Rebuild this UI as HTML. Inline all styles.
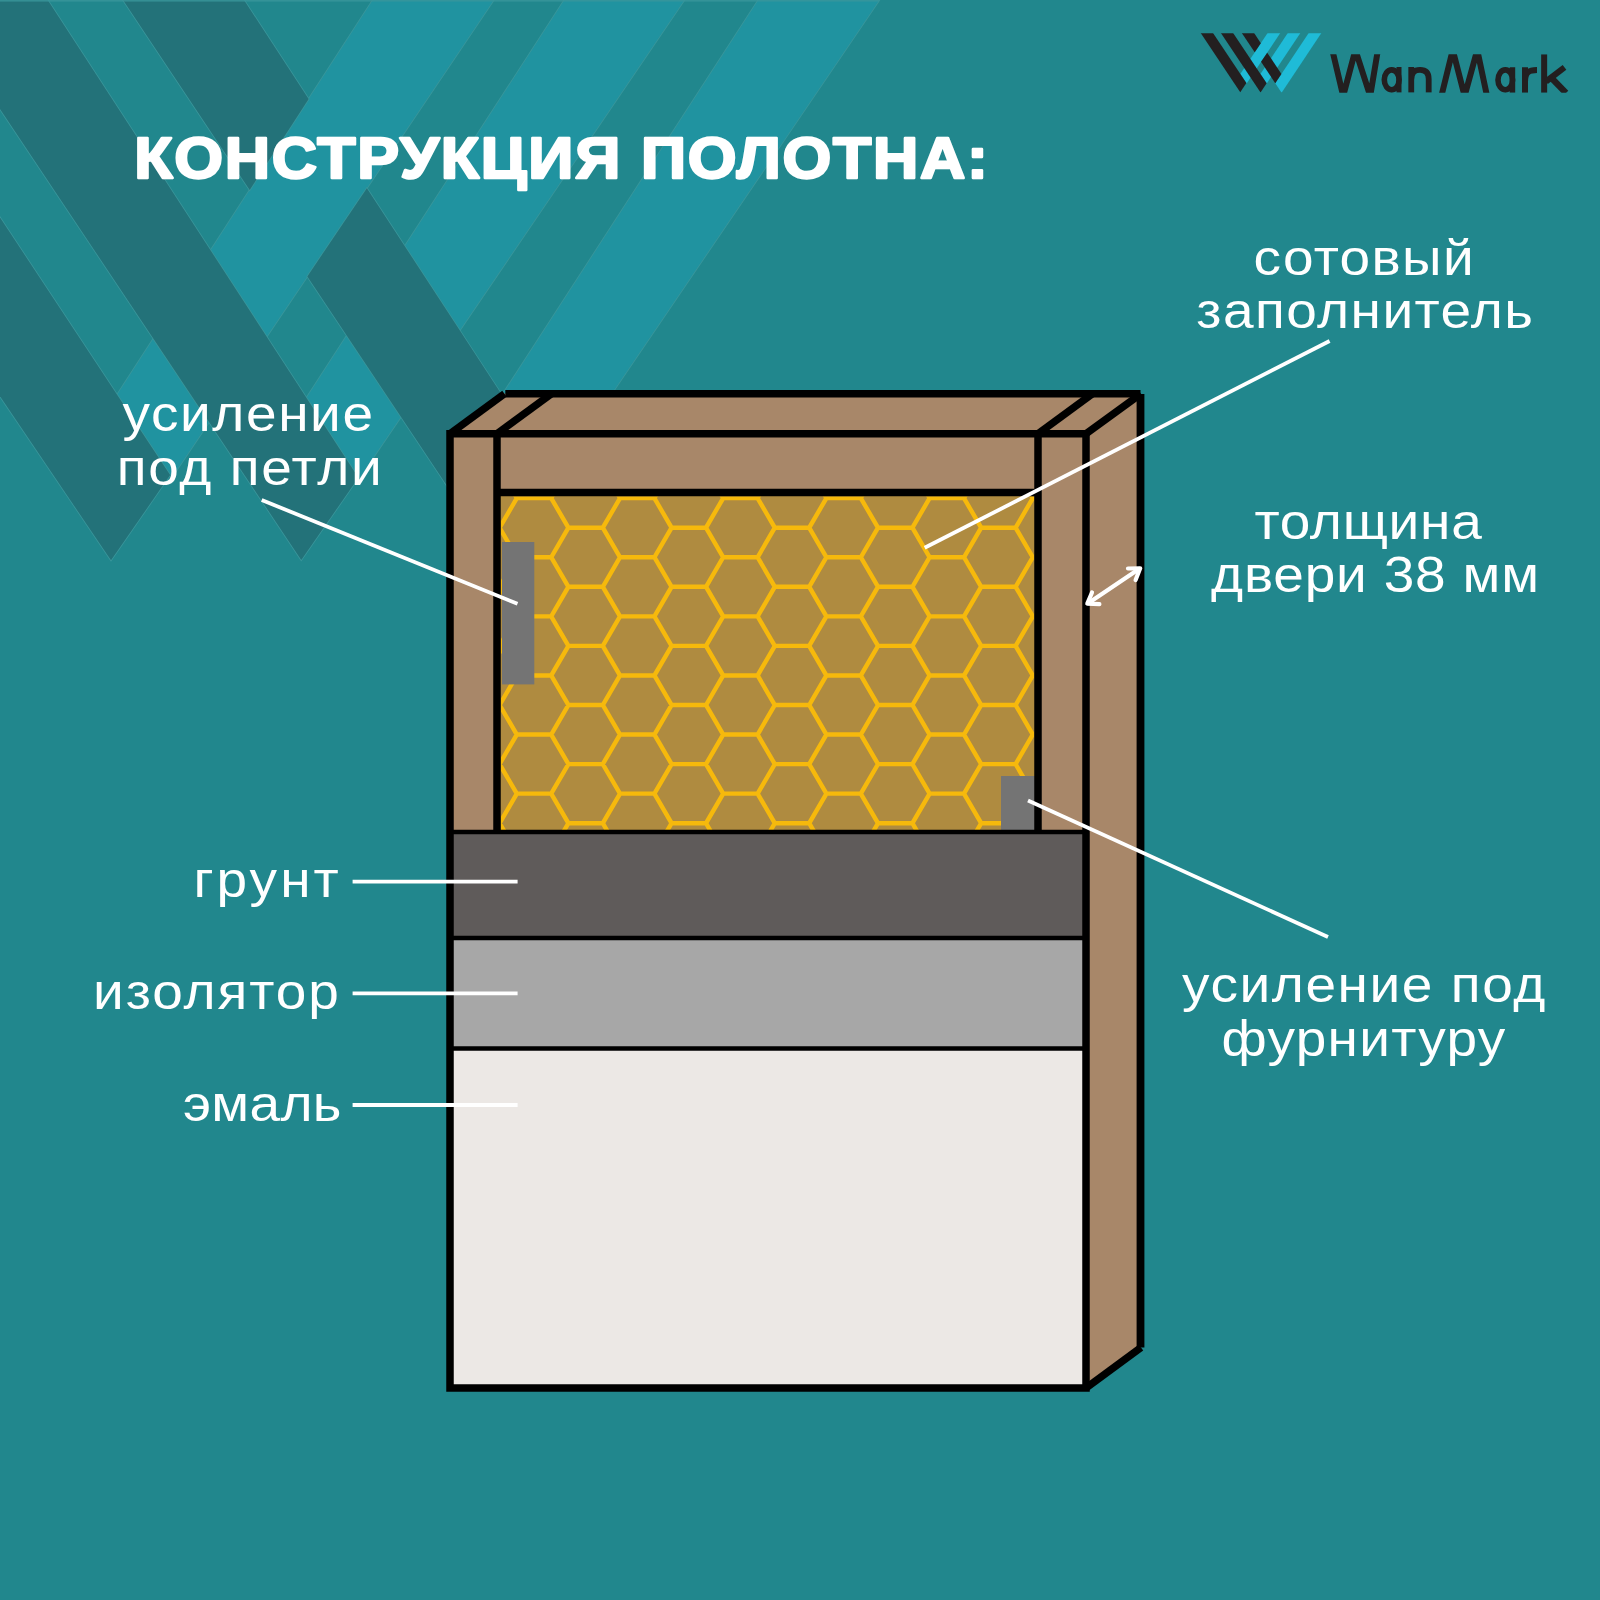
<!DOCTYPE html>
<html><head><meta charset="utf-8">
<style>
html,body{margin:0;padding:0;background:#21878d;}
svg{display:block;}
text{font-family:"Liberation Sans",sans-serif;}
</style></head><body>
<svg width="1600" height="1600" viewBox="0 0 1600 1600">
<defs>
<clipPath id="lc"><rect x="1190" y="33.3" width="150" height="59.1"/></clipPath>
<clipPath id="ltc"><rect x="1320" y="54.2" width="260" height="38.5"/></clipPath>
<clipPath id="hc"><rect x="501" y="496.5" width="533" height="334"/></clipPath>
</defs>
<rect width="1600" height="1600" fill="#21878d"/><polygon fill="#2093a0" stroke="#3a969b" stroke-width="1.6" paint-order="stroke" points="385.76,-20.00 507.29,-20.00 171.73,477.49 117.04,394.70"/><polygon fill="#2093a0" stroke="#3a969b" stroke-width="1.6" paint-order="stroke" points="577.26,-20.00 698.00,-20.00 358.99,478.54 306.50,397.84"/><polygon fill="#2093a0" stroke="#3a969b" stroke-width="1.6" paint-order="stroke" points="771.27,-20.00 893.00,-20.00 497.55,561.54 445.09,482.90"/><polygon fill="#237279" stroke="#3a969b" stroke-width="1.6" paint-order="stroke" points="-281.63,-20.00 -156.91,-20.00 170.10,475.03 111.01,560.31"/><polygon fill="#237279" stroke="#3a969b" stroke-width="1.6" paint-order="stroke" points="-86.16,-20.00 34.69,-20.00 358.41,477.65 301.27,559.99"/><polygon fill="#237279" stroke="#3a969b" stroke-width="1.6" paint-order="stroke" points="109.66,-20.00 230.94,-20.00 308.65,99.00 249.70,189.96"/><polygon fill="#237279" stroke="#3a969b" stroke-width="1.6" paint-order="stroke" points="307.36,276.41 366.88,188.17 617.99,572.73 561.50,657.42"/><rect x="0" y="0" width="879" height="1.6" fill="#3a969b" opacity="0.8"/>
<!-- door side + top faces -->
<polygon points="1086,433.75 1141,393.5 1141,1347.5 1086,1388" fill="#a88769"/>
<polygon points="450,433.75 504.5,393.5 1141,393.5 1086,433.75" fill="#a88769"/>
<g stroke="#000" stroke-width="7.5" stroke-linecap="butt">
<line x1="505.3" y1="393.7" x2="1140.5" y2="393.7" stroke-width="7.4"/>
<line x1="1140.5" y1="394" x2="1140.5" y2="1347.5" stroke-width="7.8"/>
<line x1="450" y1="433.75" x2="504.5" y2="393.75"/>
<line x1="497" y1="433.75" x2="551.5" y2="393.75"/>
<line x1="1038" y1="433.75" x2="1092.5" y2="393.75"/>
<line x1="1086" y1="433.75" x2="1141" y2="393.75"/>
<line x1="1086" y1="1388" x2="1141" y2="1347.5"/>
</g>
<!-- front face -->
<rect x="450" y="433.75" width="636" height="398.25" fill="#a88769"/>
<rect x="497" y="492.5" width="541" height="339.5" fill="#af8b40"/>
<g clip-path="url(#hc)"><path d="M396.40,468.60 L413.60,439.05 L448.00,439.05 L465.20,468.60 L448.00,498.15 L413.60,498.15Z M448.00,498.15 L465.20,468.60 L499.60,468.60 L516.80,498.15 L499.60,527.70 L465.20,527.70Z M396.40,527.70 L413.60,498.15 L448.00,498.15 L465.20,527.70 L448.00,557.25 L413.60,557.25Z M448.00,557.25 L465.20,527.70 L499.60,527.70 L516.80,557.25 L499.60,586.80 L465.20,586.80Z M396.40,586.80 L413.60,557.25 L448.00,557.25 L465.20,586.80 L448.00,616.35 L413.60,616.35Z M448.00,616.35 L465.20,586.80 L499.60,586.80 L516.80,616.35 L499.60,645.90 L465.20,645.90Z M396.40,645.90 L413.60,616.35 L448.00,616.35 L465.20,645.90 L448.00,675.45 L413.60,675.45Z M448.00,675.45 L465.20,645.90 L499.60,645.90 L516.80,675.45 L499.60,705.00 L465.20,705.00Z M396.40,705.00 L413.60,675.45 L448.00,675.45 L465.20,705.00 L448.00,734.55 L413.60,734.55Z M448.00,734.55 L465.20,705.00 L499.60,705.00 L516.80,734.55 L499.60,764.10 L465.20,764.10Z M396.40,764.10 L413.60,734.55 L448.00,734.55 L465.20,764.10 L448.00,793.65 L413.60,793.65Z M448.00,793.65 L465.20,764.10 L499.60,764.10 L516.80,793.65 L499.60,823.20 L465.20,823.20Z M396.40,823.20 L413.60,793.65 L448.00,793.65 L465.20,823.20 L448.00,852.75 L413.60,852.75Z M448.00,852.75 L465.20,823.20 L499.60,823.20 L516.80,852.75 L499.60,882.30 L465.20,882.30Z M396.40,882.30 L413.60,852.75 L448.00,852.75 L465.20,882.30 L448.00,911.85 L413.60,911.85Z M448.00,911.85 L465.20,882.30 L499.60,882.30 L516.80,911.85 L499.60,941.40 L465.20,941.40Z M499.60,468.60 L516.80,439.05 L551.20,439.05 L568.40,468.60 L551.20,498.15 L516.80,498.15Z M551.20,498.15 L568.40,468.60 L602.80,468.60 L620.00,498.15 L602.80,527.70 L568.40,527.70Z M499.60,527.70 L516.80,498.15 L551.20,498.15 L568.40,527.70 L551.20,557.25 L516.80,557.25Z M551.20,557.25 L568.40,527.70 L602.80,527.70 L620.00,557.25 L602.80,586.80 L568.40,586.80Z M499.60,586.80 L516.80,557.25 L551.20,557.25 L568.40,586.80 L551.20,616.35 L516.80,616.35Z M551.20,616.35 L568.40,586.80 L602.80,586.80 L620.00,616.35 L602.80,645.90 L568.40,645.90Z M499.60,645.90 L516.80,616.35 L551.20,616.35 L568.40,645.90 L551.20,675.45 L516.80,675.45Z M551.20,675.45 L568.40,645.90 L602.80,645.90 L620.00,675.45 L602.80,705.00 L568.40,705.00Z M499.60,705.00 L516.80,675.45 L551.20,675.45 L568.40,705.00 L551.20,734.55 L516.80,734.55Z M551.20,734.55 L568.40,705.00 L602.80,705.00 L620.00,734.55 L602.80,764.10 L568.40,764.10Z M499.60,764.10 L516.80,734.55 L551.20,734.55 L568.40,764.10 L551.20,793.65 L516.80,793.65Z M551.20,793.65 L568.40,764.10 L602.80,764.10 L620.00,793.65 L602.80,823.20 L568.40,823.20Z M499.60,823.20 L516.80,793.65 L551.20,793.65 L568.40,823.20 L551.20,852.75 L516.80,852.75Z M551.20,852.75 L568.40,823.20 L602.80,823.20 L620.00,852.75 L602.80,882.30 L568.40,882.30Z M499.60,882.30 L516.80,852.75 L551.20,852.75 L568.40,882.30 L551.20,911.85 L516.80,911.85Z M551.20,911.85 L568.40,882.30 L602.80,882.30 L620.00,911.85 L602.80,941.40 L568.40,941.40Z M602.80,468.60 L620.00,439.05 L654.40,439.05 L671.60,468.60 L654.40,498.15 L620.00,498.15Z M654.40,498.15 L671.60,468.60 L706.00,468.60 L723.20,498.15 L706.00,527.70 L671.60,527.70Z M602.80,527.70 L620.00,498.15 L654.40,498.15 L671.60,527.70 L654.40,557.25 L620.00,557.25Z M654.40,557.25 L671.60,527.70 L706.00,527.70 L723.20,557.25 L706.00,586.80 L671.60,586.80Z M602.80,586.80 L620.00,557.25 L654.40,557.25 L671.60,586.80 L654.40,616.35 L620.00,616.35Z M654.40,616.35 L671.60,586.80 L706.00,586.80 L723.20,616.35 L706.00,645.90 L671.60,645.90Z M602.80,645.90 L620.00,616.35 L654.40,616.35 L671.60,645.90 L654.40,675.45 L620.00,675.45Z M654.40,675.45 L671.60,645.90 L706.00,645.90 L723.20,675.45 L706.00,705.00 L671.60,705.00Z M602.80,705.00 L620.00,675.45 L654.40,675.45 L671.60,705.00 L654.40,734.55 L620.00,734.55Z M654.40,734.55 L671.60,705.00 L706.00,705.00 L723.20,734.55 L706.00,764.10 L671.60,764.10Z M602.80,764.10 L620.00,734.55 L654.40,734.55 L671.60,764.10 L654.40,793.65 L620.00,793.65Z M654.40,793.65 L671.60,764.10 L706.00,764.10 L723.20,793.65 L706.00,823.20 L671.60,823.20Z M602.80,823.20 L620.00,793.65 L654.40,793.65 L671.60,823.20 L654.40,852.75 L620.00,852.75Z M654.40,852.75 L671.60,823.20 L706.00,823.20 L723.20,852.75 L706.00,882.30 L671.60,882.30Z M602.80,882.30 L620.00,852.75 L654.40,852.75 L671.60,882.30 L654.40,911.85 L620.00,911.85Z M654.40,911.85 L671.60,882.30 L706.00,882.30 L723.20,911.85 L706.00,941.40 L671.60,941.40Z M706.00,468.60 L723.20,439.05 L757.60,439.05 L774.80,468.60 L757.60,498.15 L723.20,498.15Z M757.60,498.15 L774.80,468.60 L809.20,468.60 L826.40,498.15 L809.20,527.70 L774.80,527.70Z M706.00,527.70 L723.20,498.15 L757.60,498.15 L774.80,527.70 L757.60,557.25 L723.20,557.25Z M757.60,557.25 L774.80,527.70 L809.20,527.70 L826.40,557.25 L809.20,586.80 L774.80,586.80Z M706.00,586.80 L723.20,557.25 L757.60,557.25 L774.80,586.80 L757.60,616.35 L723.20,616.35Z M757.60,616.35 L774.80,586.80 L809.20,586.80 L826.40,616.35 L809.20,645.90 L774.80,645.90Z M706.00,645.90 L723.20,616.35 L757.60,616.35 L774.80,645.90 L757.60,675.45 L723.20,675.45Z M757.60,675.45 L774.80,645.90 L809.20,645.90 L826.40,675.45 L809.20,705.00 L774.80,705.00Z M706.00,705.00 L723.20,675.45 L757.60,675.45 L774.80,705.00 L757.60,734.55 L723.20,734.55Z M757.60,734.55 L774.80,705.00 L809.20,705.00 L826.40,734.55 L809.20,764.10 L774.80,764.10Z M706.00,764.10 L723.20,734.55 L757.60,734.55 L774.80,764.10 L757.60,793.65 L723.20,793.65Z M757.60,793.65 L774.80,764.10 L809.20,764.10 L826.40,793.65 L809.20,823.20 L774.80,823.20Z M706.00,823.20 L723.20,793.65 L757.60,793.65 L774.80,823.20 L757.60,852.75 L723.20,852.75Z M757.60,852.75 L774.80,823.20 L809.20,823.20 L826.40,852.75 L809.20,882.30 L774.80,882.30Z M706.00,882.30 L723.20,852.75 L757.60,852.75 L774.80,882.30 L757.60,911.85 L723.20,911.85Z M757.60,911.85 L774.80,882.30 L809.20,882.30 L826.40,911.85 L809.20,941.40 L774.80,941.40Z M809.20,468.60 L826.40,439.05 L860.80,439.05 L878.00,468.60 L860.80,498.15 L826.40,498.15Z M860.80,498.15 L878.00,468.60 L912.40,468.60 L929.60,498.15 L912.40,527.70 L878.00,527.70Z M809.20,527.70 L826.40,498.15 L860.80,498.15 L878.00,527.70 L860.80,557.25 L826.40,557.25Z M860.80,557.25 L878.00,527.70 L912.40,527.70 L929.60,557.25 L912.40,586.80 L878.00,586.80Z M809.20,586.80 L826.40,557.25 L860.80,557.25 L878.00,586.80 L860.80,616.35 L826.40,616.35Z M860.80,616.35 L878.00,586.80 L912.40,586.80 L929.60,616.35 L912.40,645.90 L878.00,645.90Z M809.20,645.90 L826.40,616.35 L860.80,616.35 L878.00,645.90 L860.80,675.45 L826.40,675.45Z M860.80,675.45 L878.00,645.90 L912.40,645.90 L929.60,675.45 L912.40,705.00 L878.00,705.00Z M809.20,705.00 L826.40,675.45 L860.80,675.45 L878.00,705.00 L860.80,734.55 L826.40,734.55Z M860.80,734.55 L878.00,705.00 L912.40,705.00 L929.60,734.55 L912.40,764.10 L878.00,764.10Z M809.20,764.10 L826.40,734.55 L860.80,734.55 L878.00,764.10 L860.80,793.65 L826.40,793.65Z M860.80,793.65 L878.00,764.10 L912.40,764.10 L929.60,793.65 L912.40,823.20 L878.00,823.20Z M809.20,823.20 L826.40,793.65 L860.80,793.65 L878.00,823.20 L860.80,852.75 L826.40,852.75Z M860.80,852.75 L878.00,823.20 L912.40,823.20 L929.60,852.75 L912.40,882.30 L878.00,882.30Z M809.20,882.30 L826.40,852.75 L860.80,852.75 L878.00,882.30 L860.80,911.85 L826.40,911.85Z M860.80,911.85 L878.00,882.30 L912.40,882.30 L929.60,911.85 L912.40,941.40 L878.00,941.40Z M912.40,468.60 L929.60,439.05 L964.00,439.05 L981.20,468.60 L964.00,498.15 L929.60,498.15Z M964.00,498.15 L981.20,468.60 L1015.60,468.60 L1032.80,498.15 L1015.60,527.70 L981.20,527.70Z M912.40,527.70 L929.60,498.15 L964.00,498.15 L981.20,527.70 L964.00,557.25 L929.60,557.25Z M964.00,557.25 L981.20,527.70 L1015.60,527.70 L1032.80,557.25 L1015.60,586.80 L981.20,586.80Z M912.40,586.80 L929.60,557.25 L964.00,557.25 L981.20,586.80 L964.00,616.35 L929.60,616.35Z M964.00,616.35 L981.20,586.80 L1015.60,586.80 L1032.80,616.35 L1015.60,645.90 L981.20,645.90Z M912.40,645.90 L929.60,616.35 L964.00,616.35 L981.20,645.90 L964.00,675.45 L929.60,675.45Z M964.00,675.45 L981.20,645.90 L1015.60,645.90 L1032.80,675.45 L1015.60,705.00 L981.20,705.00Z M912.40,705.00 L929.60,675.45 L964.00,675.45 L981.20,705.00 L964.00,734.55 L929.60,734.55Z M964.00,734.55 L981.20,705.00 L1015.60,705.00 L1032.80,734.55 L1015.60,764.10 L981.20,764.10Z M912.40,764.10 L929.60,734.55 L964.00,734.55 L981.20,764.10 L964.00,793.65 L929.60,793.65Z M964.00,793.65 L981.20,764.10 L1015.60,764.10 L1032.80,793.65 L1015.60,823.20 L981.20,823.20Z M912.40,823.20 L929.60,793.65 L964.00,793.65 L981.20,823.20 L964.00,852.75 L929.60,852.75Z M964.00,852.75 L981.20,823.20 L1015.60,823.20 L1032.80,852.75 L1015.60,882.30 L981.20,882.30Z M912.40,882.30 L929.60,852.75 L964.00,852.75 L981.20,882.30 L964.00,911.85 L929.60,911.85Z M964.00,911.85 L981.20,882.30 L1015.60,882.30 L1032.80,911.85 L1015.60,941.40 L981.20,941.40Z M1015.60,468.60 L1032.80,439.05 L1067.20,439.05 L1084.40,468.60 L1067.20,498.15 L1032.80,498.15Z M1067.20,498.15 L1084.40,468.60 L1118.80,468.60 L1136.00,498.15 L1118.80,527.70 L1084.40,527.70Z M1015.60,527.70 L1032.80,498.15 L1067.20,498.15 L1084.40,527.70 L1067.20,557.25 L1032.80,557.25Z M1067.20,557.25 L1084.40,527.70 L1118.80,527.70 L1136.00,557.25 L1118.80,586.80 L1084.40,586.80Z M1015.60,586.80 L1032.80,557.25 L1067.20,557.25 L1084.40,586.80 L1067.20,616.35 L1032.80,616.35Z M1067.20,616.35 L1084.40,586.80 L1118.80,586.80 L1136.00,616.35 L1118.80,645.90 L1084.40,645.90Z M1015.60,645.90 L1032.80,616.35 L1067.20,616.35 L1084.40,645.90 L1067.20,675.45 L1032.80,675.45Z M1067.20,675.45 L1084.40,645.90 L1118.80,645.90 L1136.00,675.45 L1118.80,705.00 L1084.40,705.00Z M1015.60,705.00 L1032.80,675.45 L1067.20,675.45 L1084.40,705.00 L1067.20,734.55 L1032.80,734.55Z M1067.20,734.55 L1084.40,705.00 L1118.80,705.00 L1136.00,734.55 L1118.80,764.10 L1084.40,764.10Z M1015.60,764.10 L1032.80,734.55 L1067.20,734.55 L1084.40,764.10 L1067.20,793.65 L1032.80,793.65Z M1067.20,793.65 L1084.40,764.10 L1118.80,764.10 L1136.00,793.65 L1118.80,823.20 L1084.40,823.20Z M1015.60,823.20 L1032.80,793.65 L1067.20,793.65 L1084.40,823.20 L1067.20,852.75 L1032.80,852.75Z M1067.20,852.75 L1084.40,823.20 L1118.80,823.20 L1136.00,852.75 L1118.80,882.30 L1084.40,882.30Z M1015.60,882.30 L1032.80,852.75 L1067.20,852.75 L1084.40,882.30 L1067.20,911.85 L1032.80,911.85Z M1067.20,911.85 L1084.40,882.30 L1118.80,882.30 L1136.00,911.85 L1118.80,941.40 L1084.40,941.40Z M1118.80,468.60 L1136.00,439.05 L1170.40,439.05 L1187.60,468.60 L1170.40,498.15 L1136.00,498.15Z M1170.40,498.15 L1187.60,468.60 L1222.00,468.60 L1239.20,498.15 L1222.00,527.70 L1187.60,527.70Z M1118.80,527.70 L1136.00,498.15 L1170.40,498.15 L1187.60,527.70 L1170.40,557.25 L1136.00,557.25Z M1170.40,557.25 L1187.60,527.70 L1222.00,527.70 L1239.20,557.25 L1222.00,586.80 L1187.60,586.80Z M1118.80,586.80 L1136.00,557.25 L1170.40,557.25 L1187.60,586.80 L1170.40,616.35 L1136.00,616.35Z M1170.40,616.35 L1187.60,586.80 L1222.00,586.80 L1239.20,616.35 L1222.00,645.90 L1187.60,645.90Z M1118.80,645.90 L1136.00,616.35 L1170.40,616.35 L1187.60,645.90 L1170.40,675.45 L1136.00,675.45Z M1170.40,675.45 L1187.60,645.90 L1222.00,645.90 L1239.20,675.45 L1222.00,705.00 L1187.60,705.00Z M1118.80,705.00 L1136.00,675.45 L1170.40,675.45 L1187.60,705.00 L1170.40,734.55 L1136.00,734.55Z M1170.40,734.55 L1187.60,705.00 L1222.00,705.00 L1239.20,734.55 L1222.00,764.10 L1187.60,764.10Z M1118.80,764.10 L1136.00,734.55 L1170.40,734.55 L1187.60,764.10 L1170.40,793.65 L1136.00,793.65Z M1170.40,793.65 L1187.60,764.10 L1222.00,764.10 L1239.20,793.65 L1222.00,823.20 L1187.60,823.20Z M1118.80,823.20 L1136.00,793.65 L1170.40,793.65 L1187.60,823.20 L1170.40,852.75 L1136.00,852.75Z M1170.40,852.75 L1187.60,823.20 L1222.00,823.20 L1239.20,852.75 L1222.00,882.30 L1187.60,882.30Z M1118.80,882.30 L1136.00,852.75 L1170.40,852.75 L1187.60,882.30 L1170.40,911.85 L1136.00,911.85Z M1170.40,911.85 L1187.60,882.30 L1222.00,882.30 L1239.20,911.85 L1222.00,941.40 L1187.60,941.40Z" fill="none" stroke="#f6b90c" stroke-width="4.4"/></g>
<rect x="502" y="542" width="32.3" height="142.4" fill="#747474"/>
<rect x="1001" y="776" width="34" height="54" fill="#747474"/>
<rect x="450" y="832" width="636" height="106" fill="#5f5b5a"/>
<rect x="450" y="938" width="636" height="110.5" fill="#a7a7a7"/>
<rect x="450" y="1048.5" width="636" height="339.5" fill="#ece8e5"/>
<line x1="497" y1="433.75" x2="497" y2="832" stroke="#000" stroke-width="7.5"/>
<line x1="1038" y1="433.75" x2="1038" y2="832" stroke="#000" stroke-width="7.5"/>
<line x1="497" y1="492.5" x2="1038" y2="492.5" stroke="#000" stroke-width="7.5"/>
<line x1="450" y1="832" x2="1086" y2="832" stroke="#000" stroke-width="4.7"/>
<line x1="450" y1="938" x2="1086" y2="938" stroke="#000" stroke-width="4.7"/>
<line x1="450" y1="1048.5" x2="1086" y2="1048.5" stroke="#000" stroke-width="4.5"/>
<rect x="450" y="433.75" width="636" height="954.25" fill="none" stroke="#000" stroke-width="7.5"/>
<!-- leader lines -->
<g stroke="#fff" stroke-width="3.8" fill="none">
<line x1="261.7" y1="500" x2="517.5" y2="603.8"/>
<line x1="1329.6" y1="341" x2="924.7" y2="547.8"/>
<line x1="352.6" y1="881.7" x2="517.6" y2="881.7"/>
<line x1="352.6" y1="993.3" x2="517.6" y2="993.3"/>
<line x1="352.6" y1="1105" x2="517.6" y2="1105"/>
<line x1="1028" y1="800.5" x2="1328" y2="937"/>
<g stroke-linecap="round" stroke-linejoin="round" stroke-width="4.2">
<line x1="1139" y1="569" x2="1088.5" y2="603"/>
<polyline points="1128,568.5 1140.2,568.3 1135.6,580"/>
<polyline points="1092,592.5 1087.3,603.6 1099.4,604.2"/>
</g>
</g>
<!-- text -->
<text x="134.33" y="178.20" font-size="57" fill="#fff" font-weight="bold" stroke="#fff" stroke-width="2.4" stroke-linejoin="round" transform="translate(134.33,0) scale(1.1,1) translate(-134.33,0)" textLength="776.05" lengthAdjust="spacing">КОНСТРУКЦИЯ ПОЛОТНА:</text>
<text x="122.49" y="431.00" font-size="50" fill="#fff" transform="translate(122.49,0) scale(1.1,1) translate(-122.49,0)" textLength="227.76" lengthAdjust="spacing">усиление</text>
<text x="116.86" y="484.80" font-size="50" fill="#fff" transform="translate(116.86,0) scale(1.1,1) translate(-116.86,0)" textLength="240.69" lengthAdjust="spacing">под петли</text>
<text x="1253.43" y="274.70" font-size="50" fill="#fff" transform="translate(1253.43,0) scale(1.1,1) translate(-1253.43,0)" textLength="200.27" lengthAdjust="spacing">сотовый</text>
<text x="1196.37" y="328.00" font-size="50" fill="#fff" transform="translate(1196.37,0) scale(1.1,1) translate(-1196.37,0)" textLength="305.97" lengthAdjust="spacing">заполнитель</text>
<text x="1254.39" y="538.70" font-size="50" fill="#fff" transform="translate(1254.39,0) scale(1.1,1) translate(-1254.39,0)" textLength="206.74" lengthAdjust="spacing">толщина</text>
<text x="1210.98" y="592.00" font-size="50" fill="#fff" transform="translate(1210.98,0) scale(1.1,1) translate(-1210.98,0)" textLength="298.25" lengthAdjust="spacing">двери 38 мм</text>
<text x="193.55" y="897.50" font-size="50" fill="#fff" transform="translate(193.55,0) scale(1.1,1) translate(-193.55,0)" textLength="131.99" lengthAdjust="spacing">грунт</text>
<text x="93.13" y="1009.00" font-size="50" fill="#fff" transform="translate(93.13,0) scale(1.1,1) translate(-93.13,0)" textLength="223.31" lengthAdjust="spacing">изолятор</text>
<text x="182.94" y="1121.30" font-size="50" fill="#fff" transform="translate(182.94,0) scale(1.1,1) translate(-182.94,0)" textLength="144.14" lengthAdjust="spacing">эмаль</text>
<text x="1182.00" y="1002.25" font-size="50" fill="#fff" transform="translate(1182.00,0) scale(1.1,1) translate(-1182.00,0)" textLength="330.23" lengthAdjust="spacing">усиление под</text>
<text x="1221.53" y="1056.25" font-size="50" fill="#fff" transform="translate(1221.53,0) scale(1.1,1) translate(-1221.53,0)" textLength="257.97" lengthAdjust="spacing">фурнитуру</text>
<g clip-path="url(#lc)"><polygon fill="#1fbbd7" points="1240.30,73.95 1633.70,-516.15 1640.05,-506.63 1246.65,83.47"/><polygon fill="#1fbbd7" points="1260.45,74.02 1643.80,-501.00 1650.10,-491.55 1266.75,83.48"/><polygon fill="#1fbbd7" points="1275.25,83.17 1654.25,-485.32 1660.60,-475.80 1281.60,92.70"/><polygon fill="#231f20" points="1170.90,-11.70 1177.05,-20.92 1246.40,83.10 1240.25,92.32"/><polygon fill="#231f20" points="1191.10,-11.70 1197.20,-20.85 1266.65,83.33 1260.55,92.48"/><polygon fill="#231f20" points="1212.00,-11.70 1218.15,-20.92 1260.85,43.13 1254.70,52.35"/><polygon fill="#231f20" points="1261.05,61.87 1267.20,52.65 1281.40,73.95 1275.25,83.17"/></g><g fill="none" stroke="#231f20" stroke-width="6" clip-path="url(#ltc)">
<polyline points="1332.3,50 1343.2,96 1355.4,50 1370.2,96 1377.9,50" stroke-linejoin="miter" stroke-miterlimit="10"/>
<ellipse cx="1391.7" cy="79.85" rx="7.4" ry="10" stroke-width="5.6"/>
<line x1="1399" y1="67.1" x2="1399" y2="92.6" stroke-width="5"/>
<path d="M1411.25,92.6 V67.1 M1411.25,80 C1411.25,72 1415,69.8 1420,69.8 C1426,69.8 1428.7,73 1428.7,79 V92.6" stroke-width="5.8"/>
<polyline points="1441.4,96 1452.75,50 1464.6,96 1477.25,50 1487,96" stroke-linejoin="miter" stroke-miterlimit="10"/>
<ellipse cx="1505.3" cy="79.9" rx="7.3" ry="10" stroke-width="5.6"/>
<line x1="1512.45" y1="67.3" x2="1512.45" y2="92.7" stroke-width="5.5"/>
<path d="M1525,92.7 V67.3 M1525,82 C1525,72 1529,70 1537,70" stroke-width="6"/>
<line x1="1544.15" y1="54.2" x2="1544.15" y2="92.7" stroke-width="6"/>
<line x1="1546" y1="81.5" x2="1564.5" y2="67.3" stroke-width="6"/>
<line x1="1551" y1="77.5" x2="1566" y2="93" stroke-width="6.3"/>
</g>
</svg>
</body></html>
